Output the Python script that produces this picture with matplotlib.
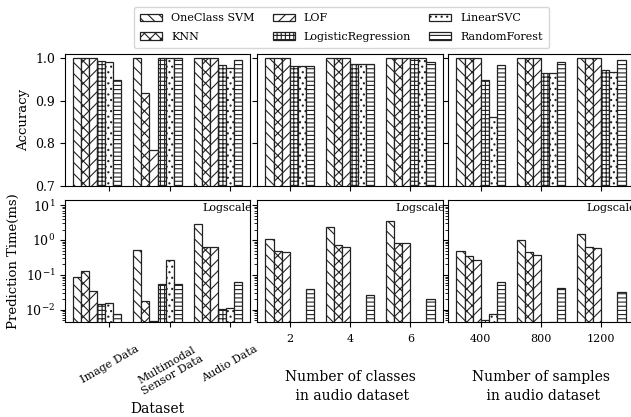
import numpy as np
import matplotlib
matplotlib.use("Agg")
import matplotlib.pyplot as plt

plt.rcParams['font.family'] = ['DejaVu Serif']
plt.rcParams['hatch.linewidth'] = 0.8

models = ["OneClass SVM", "KNN", "LOF", "LogisticRegression", "LinearSVC", "RandomForest"]
hatches = ["\\\\\\", "xxx", "///", "++++", "...", "----"]

dataset_labels = ["Image Data", "Multimodal\nSensor Data", "Audio Data"]
class_labels = ["2", "4", "6"]
sample_labels = ["400", "800", "1200"]

# Accuracy [model][group]
acc_dataset = [
    [1.0, 1.0, 1.0],
    [1.0, 0.918, 1.0],
    [1.0, 0.785, 1.0],
    [0.994, 1.0, 0.985],
    [0.992, 1.0, 0.977],
    [0.948, 1.0, 0.996],
]
acc_classes = [
    [1.0, 1.0, 1.0],
    [1.0, 1.0, 1.0],
    [1.0, 1.0, 1.0],
    [0.981, 0.986, 1.0],
    [0.981, 0.986, 1.0],
    [0.981, 0.986, 0.991],
]
acc_samples = [
    [1.0, 1.0, 1.0],
    [1.0, 1.0, 1.0],
    [1.0, 1.0, 1.0],
    [0.949, 0.966, 0.973],
    [0.861, 0.966, 0.967],
    [0.984, 0.992, 0.995],
]
# Prediction time (ms) [model][group]
time_dataset = [
    [0.085, 0.51, 2.9],
    [0.13, 0.0185, 0.62],
    [0.035, 0.0048, 0.62],
    [0.015, 0.055, 0.0105],
    [0.016, 0.26, 0.011],
    [0.0075, 0.055, 0.063],
]
time_classes = [
    [1.05, 2.3, 3.4],
    [0.50, 0.70, 0.82],
    [0.44, 0.65, 0.80],
    [0.0038, 0.0027, 0.002],
    [0.0044, 0.0029, 0.002],
    [0.040, 0.026, 0.021],
]
time_samples = [
    [0.49, 0.98, 1.5],
    [0.35, 0.45, 0.63],
    [0.26, 0.37, 0.60],
    [0.0052, 0.0039, 0.0035],
    [0.0077, 0.0046, 0.0038],
    [0.063, 0.041, 0.033],
]

W, H = 631, 417
fig = plt.figure(figsize=(W / 100, H / 100), dpi=100)

def px_axes(x0, x1, y0, y1):
    return fig.add_axes([x0 / W, (H - y1) / H, (x1 - x0) / W, (y1 - y0) / H])

cols = [(65, 250), (257, 443), (448, 634)]
top_rows = (54, 186)
bot_rows = (200, 322)

bw = 0.8 / 6
x = np.arange(3)

top_data = [acc_dataset, acc_classes, acc_samples]
bot_data = [time_dataset, time_classes, time_samples]
xlabels_groups = [dataset_labels, class_labels, sample_labels]
xaxis_titles = ["Dataset", "Number of classes\n in audio dataset", "Number of samples\n in audio dataset"]
bar_shift = [4.0, 2.5, 2.5]
xlims = [(-0.74, 2.34), (-0.54, 2.54), (-0.54, 2.54)]

handles = []
for c, (x0, x1) in enumerate(cols):
    axt = px_axes(x0, x1, *top_rows)
    axb = px_axes(x0, x1, *bot_rows)
    for k, m in enumerate(models):
        pos = x + (k - bar_shift[c]) * bw
        bt = axt.bar(pos, top_data[c][k], width=bw, facecolor='white', edgecolor='#222222',
                     linewidth=0.9, hatch=hatches[k], label=m)
        axb.bar(pos, bot_data[c][k], width=bw, facecolor='white', edgecolor='#222222',
                linewidth=0.9, hatch=hatches[k])
        if c == 0:
            handles.append(bt)
    axt.set_ylim(0.7, 1.01)
    axt.set_yticks([0.7, 0.8, 0.9, 1.0])
    axt.set_xticks(x)
    axt.set_xticklabels([])
    axb.set_yscale('log')
    axb.set_ylim(0.0045, 14)
    axb.set_xticks(x)
    axb.text(1.012, 0.975, "Logscale", transform=axb.transAxes, ha='right', va='top', fontsize=8)
    if c == 0:
        axb.set_xticklabels(xlabels_groups[c], rotation=30, ha='center', fontsize=8)
        axb.tick_params(axis='x', pad=12)
        axt.set_ylabel("Accuracy", fontsize=9.5)
        axb.set_ylabel("Prediction Time(ms)", fontsize=9.5)
        axt.tick_params(axis='y', labelsize=9)
        axb.tick_params(axis='y', labelsize=9)
        axb.set_xlabel(xaxis_titles[c], fontsize=10)
    else:
        axb.set_xticklabels(xlabels_groups[c], fontsize=8)
        axb.tick_params(axis='x', pad=5)
        axt.set_yticklabels([])
        axb.set_yticklabels([], minor=True)
        axb.set_yticklabels([])
        axb.set_xlabel(xaxis_titles[c], fontsize=10, labelpad=19, linespacing=1.4)
    axb.set_xlim(*xlims[c])
    axt.set_xlim(*xlims[c])

fig.legend(handles, models, loc='upper center', bbox_to_anchor=(0.541, 0.997), ncol=3,
           fontsize=8, frameon=True, handlelength=2.0, columnspacing=1.6,
           labelspacing=0.75, borderpad=0.6)

fig.savefig("out.png", dpi=100)
